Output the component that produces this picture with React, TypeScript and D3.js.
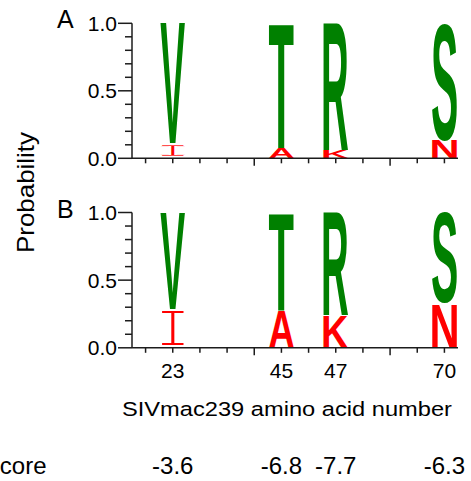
import { useMemo } from 'react'
import * as d3 from 'd3'

// amino-acid positions shown on the shared x axis, and the slot each one sits in
const positions = ['23', '45', '47', '70']
const slots = [1.5, 5.5, 7.5, 11.5]
const scores = ['-3.6', '-6.8', '-7.7', '-6.3']

// consensus (green, top of stack) and escape (red, bottom of stack) residues
const majorResidues = ['V', 'T', 'R', 'S']
const minorResidues = ['I', 'A', 'K', 'N']

const majorProbA = [0.89, 0.92, 0.94, 0.87]
const minorProbA = [0.11, 0.08, 0.06, 0.13]
const majorProbB = [0.71, 0.72, 0.76, 0.67]
const minorProbB = [0.29, 0.28, 0.24, 0.33]

const yTickValues = d3.range(0, 11).map(i => i / 10)

const W = 471
const H = 481
const axisColor = '#1c1c1c'
const green = '#008000'
const red = '#ff0000'
const sans = 'Arial, "Liberation Sans", Helvetica, sans-serif'

const inkCache = new Map<string, { x: number; y: number; w: number; h: number }>()

// tight ink box of one glyph at 100px, so it can be stretched into its stack slot
function inkBox(ch: string, family: string, weight: string) {
  const key = weight + family + ch
  const hit = inkCache.get(key)
  if (hit) return hit
  const ctx = document.createElement('canvas').getContext('2d')!
  ctx.font = `${weight} 100px ${family}`
  const m = ctx.measureText(ch)
  const box = {
    x: -m.actualBoundingBoxLeft,
    y: -m.actualBoundingBoxAscent,
    w: m.actualBoundingBoxLeft + m.actualBoundingBoxRight,
    h: m.actualBoundingBoxAscent + m.actualBoundingBoxDescent,
  }
  inkCache.set(key, box)
  return box
}

function Glyph({ ch, x, y, w, h, color }: { ch: string; x: number; y: number; w: number; h: number; color: string }) {
  // the I is drawn as a thin I-beam, with a little air above and below
  const beam = ch === 'I'
  const family = beam ? '"Liberation Mono", "DejaVu Sans Mono", monospace' : '"Liberation Sans", Arial, sans-serif'
  const weight = beam ? 'normal' : 'bold'
  const inset = beam ? Math.min(2.2, h * 0.14) : 0
  const box = inkBox(ch, family, weight)
  if (h - 2 * inset <= 0.2 || !box.w || !box.h) return null
  const sx = w / box.w
  const sy = (h - 2 * inset) / box.h
  return (
    <text
      x={0}
      y={0}
      fontSize={100}
      fontFamily={family}
      fontWeight={weight}
      fill={color}
      // a white outline eats into the mono I so its stem and serifs come out thin
      stroke={beam ? '#fff' : 'none'}
      strokeWidth={beam ? 4 : 0}
      transform={`translate(${x},${y + inset}) scale(${sx},${sy}) translate(${-box.x},${-box.y})`}
    >
      {ch}
    </text>
  )
}

export default function App() {
  const x = useMemo(() => d3.scaleLinear().domain([0, 12]).range([132, 458]), [])
  const slotW = x(1) - x(0)
  const glyphW = slotW * 0.92
  const xTicks = d3.range(0.5, 12, 1)

  const panels = [
    { label: 'A', major: majorProbA, minor: minorProbA, top: 23.3, bottom: 158.3 },
    { label: 'B', major: majorProbB, minor: minorProbB, top: 212.5, bottom: 347.8 },
  ]

  return (
    <svg
      width={W}
      height={H}
      style={{ position: 'absolute', left: 0, top: 0, background: '#fff' }}
      fontFamily={sans}
    >
      {panels.map(p => {
        const y = d3.scaleLinear().domain([0, 1]).range([p.bottom, p.top])
        return (
          <g key={p.label}>
            <text x={57} y={p.top + 5} fontSize={25}>{p.label}</text>

            {/* stacked letters */}
            {slots.map((s, i) => {
              const left = x(s) - glyphW / 2
              const m = p.minor[i]
              const M = p.major[i]
              return (
                <g key={i}>
                  <Glyph ch={minorResidues[i]} x={left} y={y(m)} w={glyphW} h={y(0) - y(m)} color={red} />
                  <Glyph ch={majorResidues[i]} x={left} y={y(m + M)} w={glyphW} h={y(m) - y(m + M)} color={green} />
                </g>
              )
            })}

            {/* y axis */}
            <line x1={x(0)} x2={x(0)} y1={y(1)} y2={y(0)} stroke={axisColor} strokeWidth={1.5} />
            {yTickValues.map((t, i) => {
              const major = i % 5 === 0
              return (
                <g key={i}>
                  <line x1={x(0) - (major ? 14 : 7)} x2={x(0)} y1={y(t)} y2={y(t)} stroke={axisColor} strokeWidth={1.5} />
                  {major && (
                    <text x={117} y={y(t)} dy="0.36em" textAnchor="end" fontSize={21}>
                      {t.toFixed(1)}
                    </text>
                  )}
                </g>
              )
            })}

            {/* x axis */}
            <line x1={x(0)} x2={x(12)} y1={y(0)} y2={y(0)} stroke={axisColor} strokeWidth={1.5} />
            {xTicks.map((t, i) => (
              <line
                key={i}
                x1={x(t)}
                x2={x(t)}
                y1={y(0)}
                y2={y(0) + ((i + 1) % 5 === 0 ? 7.5 : 5)}
                stroke={axisColor}
                strokeWidth={1.5}
              />
            ))}
          </g>
        )
      })}

      {/* position labels under panel B */}
      {slots.map((s, i) => (
        <text key={i} x={x(s)} y={378} textAnchor="middle" fontSize={21}>
          {positions[i]}
        </text>
      ))}

      <text x={287} y={416} textAnchor="middle" fontSize={20.5} textLength={330} lengthAdjust="spacingAndGlyphs">
        SIVmac239 amino acid number
      </text>

      <text
        transform="translate(34,192.5) rotate(-90)"
        textAnchor="middle"
        fontSize={24.5}
        textLength={121}
        lengthAdjust="spacingAndGlyphs"
      >
        Probability
      </text>

      {/* score row */}
      <text x={46.5} y={474} textAnchor="end" fontSize={24}>Score</text>
      {slots.map((s, i) => (
        <text key={i} x={x(s)} y={474} textAnchor="middle" fontSize={24}>
          {scores[i]}
        </text>
      ))}
    </svg>
  )
}
